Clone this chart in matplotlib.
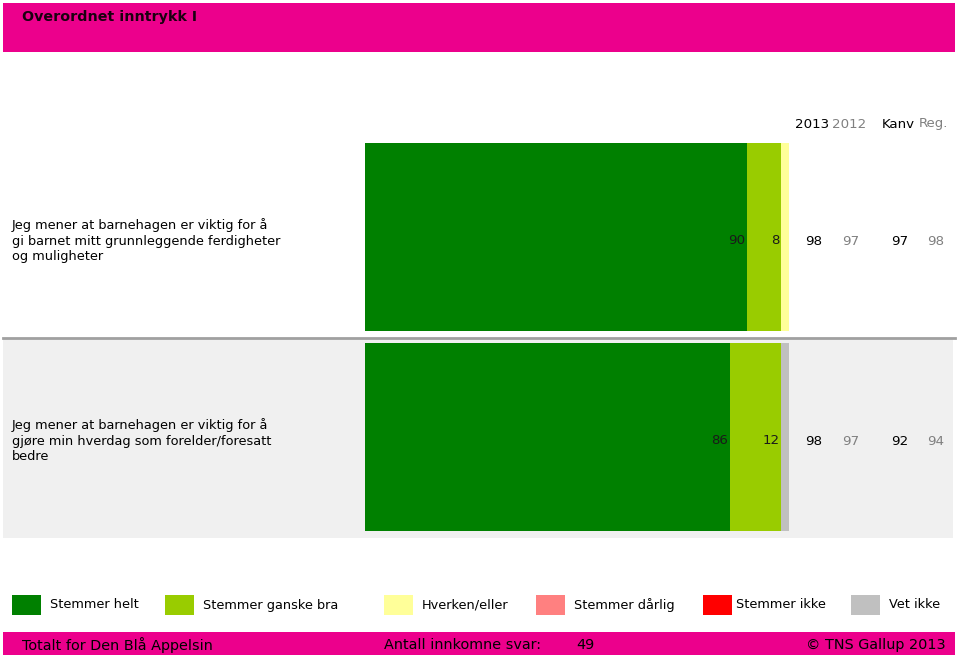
import matplotlib
matplotlib.use("Agg")
import matplotlib.pyplot as plt
from matplotlib.patches import Rectangle

# Data
questions = [
    "Jeg mener at barnehagen er viktig for å\ngi barnet mitt grunnleggende ferdigheter\nog muligheter",
    "Jeg mener at barnehagen er viktig for å\ngjøre min hverdag som forelder/foresatt\nbedre",
]
categories = ["Stemmer helt", "Stemmer ganske bra", "Hverken/eller",
              "Stemmer dårlig", "Stemmer ikke", "Vet ikke"]
colors = ["#008000", "#99CC00", "#FFFF99", "#FF8080", "#FF0000", "#C0C0C0"]
# share per category for each question (%)
helt = [90, 86]
ganske_bra = [8, 12]
hverken = [2, 0]
darlig = [0, 0]
ikke = [0, 0]
vet_ikke = [0, 2]
shares = [helt, ganske_bra, hverken, darlig, ikke, vet_ikke]

col_headers = ["2013", "2012", "Kanv", "Reg."]
col_2013 = [98, 98]
col_2012 = [97, 97]
col_kanv = [97, 92]
col_reg = [98, 94]
answers = 49

W, H = 959, 655
fig = plt.figure(figsize=(W / 100, H / 100), dpi=100)

# overlay in pixel coordinates for the frame
bg = fig.add_axes([0, 0, 1, 1])
bg.set_xlim(0, W)
bg.set_ylim(H, 0)
bg.axis("off")

pink = "#EC008C"
bg.add_patch(Rectangle((3, 3), 952, 49, color=pink, lw=0))
bg.text(22, 17, "Overordnet inntrykk I", fontsize=10.3, fontweight="bold",
        color="#1a0010", va="center", ha="left")

# row 2 background + separator
bg.add_patch(Rectangle((3, 339), 950, 199, color="#F0F0F0", lw=0))
bg.plot([3, 955], [337.5, 337.5], color="#A0A0A0", lw=2)

fs = 9.3
row_y = [241, 441]
for q, y in zip(questions, row_y):
    bg.text(12, y, q, fontsize=fs, va="center", ha="left", linespacing=1.25)

# column headers and extra columns
col_x = [812, 849, 898, 934]
col_col = ["black", "#808080", "black", "#808080"]
for hdr, x, c in zip(col_headers, col_x, col_col):
    bg.text(x, 124, hdr, fontsize=fs + 0.3, ha="center", va="center", color=c)
for vals, x, c in zip([col_2013, col_2012, col_kanv, col_reg], col_x, col_col):
    for v, y in zip(vals, row_y):
        bg.text(x + 2, y + 0.5, str(v), fontsize=fs + 0.3, ha="center",
                va="center", color=c)

# legend
leg_box_x = [12, 165, 384, 536, 703, 851]
leg_txt_x = [50, 203, 422, 574, 736, 889]
for cat, c, bx, tx in zip(categories, colors, leg_box_x, leg_txt_x):
    bg.add_patch(Rectangle((bx, 595), 29, 20, color=c, lw=0))
    bg.text(tx, 605, cat, fontsize=fs, va="center", ha="left")

# footer
ffs = 10.4
bg.add_patch(Rectangle((3, 632), 952, 23, color=pink, lw=0))
bg.text(22, 645, "Totalt for Den Blå Appelsin", fontsize=ffs, va="center", ha="left")
bg.text(384, 645, "Antall innkomne svar:", fontsize=ffs, va="center", ha="left")
bg.text(576, 645, str(answers), fontsize=ffs, va="center", ha="left")
bg.text(946, 645, "© TNS Gallup 2013", fontsize=ffs, va="center", ha="right")

# bars axis: 0-100% spans x 365..789, rows centred at y 237 / 437
x0, x1 = 365, 789
y_top, y_bot = 137, 537
ax = fig.add_axes([x0 / W, 1 - y_bot / H, (x1 - x0) / W, (y_bot - y_top) / H])
ax.set_xlim(0, 100)
ax.set_ylim(1.5, -0.5)
ax.axis("off")
ax.patch.set_alpha(0)

rows = list(range(len(questions)))
left = [0] * len(rows)
for vals, c in zip(shares, colors):
    ax.barh(rows, vals, left=left, height=0.94, color=c, lw=0)
    for i, v in enumerate(vals):
        if v >= 5:
            ax.text(left[i] + v - 0.3, i + 0.02, str(v), fontsize=fs + 0.3,
                    ha="right", va="center", color="#1a1a1a")
    left = [l + v for l, v in zip(left, vals)]

fig.savefig("out.png", dpi=100)
